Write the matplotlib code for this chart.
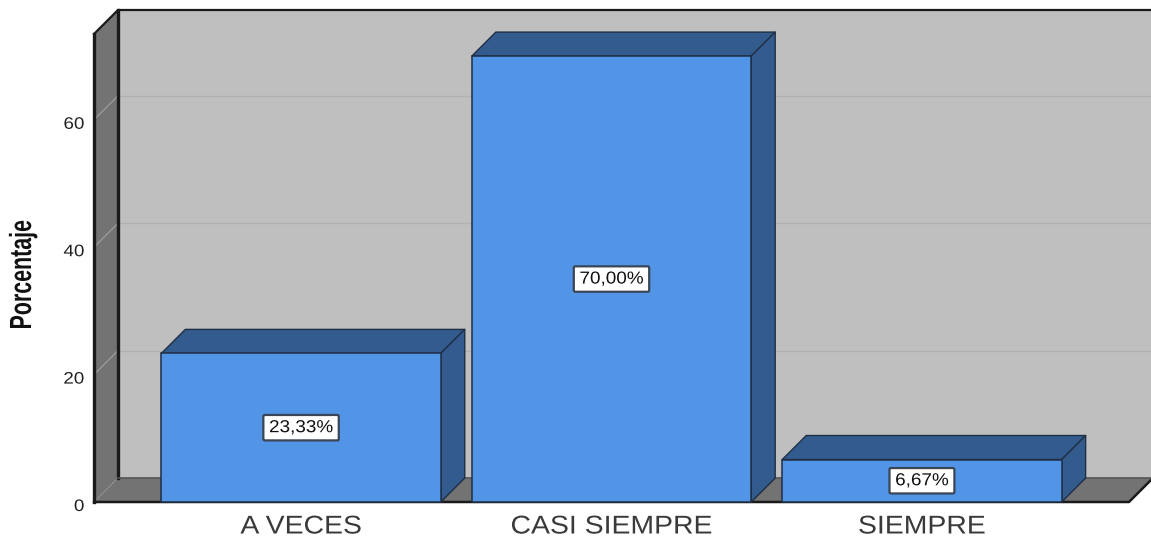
import matplotlib
matplotlib.use('agg')
import matplotlib.pyplot as plt
from matplotlib.patches import Polygon
from matplotlib.patheffects import AbstractPathEffect
from matplotlib.transforms import Affine2D, ScaledTranslation

categories = ['A VECES', 'CASI SIEMPRE', 'SIEMPRE']
porcentajes = [23.33, 70.00, 6.67]
etiquetas = ['23,33%', '70,00%', '6,67%']
y_ticks = [0, 20, 40, 60]

W, H = 1151, 538
BLUE = '#5294E6'
BLUE_DARK = '#345B8E'
EDGE = '#1F2F45'
WALL = '#BFBFBF'
SIDE = '#737373'
DARK = '#1A1A1A'
GRID = '#B0B0B0'


# el texto del original esta estirado, esto lo escala sin dejar de ser texto
class Estira(AbstractPathEffect):
    def __init__(self, sx=1.0, sy=1.0, ancla='centro'):
        super().__init__()
        self.sx, self.sy, self.ancla = sx, sy, ancla

    def draw_path(self, renderer, gc, tpath, affine, rgbFace=None):
        ext = tpath.get_extents(affine)
        cx = ext.x1 if self.ancla == 'derecha' else (ext.x0 + ext.x1) / 2
        cy = (ext.y0 + ext.y1) / 2
        t = affine + Affine2D().translate(-cx, -cy).scale(self.sx, self.sy).translate(cx, cy)
        renderer.draw_path(gc, tpath, t, rgbFace)


fig = plt.figure(figsize=(W / 100, H / 100), dpi=100)
ax = fig.add_axes([94 / W, (H - 502) / H, (1129 - 94) / W, 468 / H])
x0, x1, y1 = -0.667, 2.667, 73.47
ax.set_xlim(x0, x1)
ax.set_ylim(0, y1)
# profundidad del efecto 3D
dx = 24 / 310.5
dy = 24 / 6.37


def poly(pts, fc, ec=DARK, lw=1.0, z=1):
    ax.add_patch(Polygon(pts, closed=True, facecolor=fc, edgecolor=ec, linewidth=lw,
                         zorder=z, clip_on=False, joinstyle='round'))


# paredes y suelo
poly([(x0 + dx, dy), (x1 + dx, dy), (x1 + dx, y1 + dy), (x0 + dx, y1 + dy)], WALL, ec='none')
poly([(x0, 0), (x0 + dx, dy), (x0 + dx, y1 + dy), (x0, y1)], SIDE, ec='none')
poly([(x0, 0), (x1, 0), (x1 + dx, dy), (x0 + dx, dy)], SIDE, ec='none')

for t in y_ticks[1:]:
    ax.plot([x0 + dx, x1 + dx], [t + dy, t + dy], color=GRID, lw=1.0, zorder=2, clip_on=False)
    ax.plot([x0, x0 + dx], [t, t + dy], color='#999999', lw=1.0, zorder=2, clip_on=False)
ax.plot([x0, x0 + dx], [0, dy], color='#999999', lw=0.8, ls=':', zorder=2, clip_on=False)

# bordes oscuros de la caja
ax.plot([x0, x0], [0, y1], color=DARK, lw=2.4, zorder=3, clip_on=False)
ax.plot([x0, x0 + dx, x1 + dx], [y1, y1 + dy, y1 + dy], color=DARK, lw=1.6, zorder=3, clip_on=False)
ax.plot([x0 + dx, x0 + dx], [dy, y1 + dy], color=DARK, lw=2.4, zorder=3, clip_on=False)
ax.plot([x0 + dx, x1 + dx], [dy, dy], color='#555555', lw=1.2, zorder=3, clip_on=False)
ax.plot([x0, x1, x1 + dx], [0, 0, dy], color=DARK, lw=1.8, zorder=3, clip_on=False)

# barras
pos = list(range(len(categories)))
w = 0.9
for p, v, lab in zip(pos, porcentajes, etiquetas):
    l, r = p - w / 2, p + w / 2
    poly([(l, v), (r, v), (r + dx, v + dy), (l + dx, v + dy)], BLUE_DARK, ec=EDGE, z=4)
    poly([(r, 0), (r + dx, dy), (r + dx, v + dy), (r, v)], BLUE_DARK, ec=EDGE, z=4)
    ax.bar(p, v, width=w, color=BLUE, edgecolor=EDGE, linewidth=1.1, zorder=5, clip_on=False)
    tx = ax.text(p, v / 2, lab, ha='center', va='center', fontsize=12.5, color='#111111',
                 family='Liberation Sans', zorder=7,
                 bbox=dict(boxstyle='round,pad=0.3,rounding_size=0.08', facecolor='white',
                           edgecolor='#3A4655', linewidth=1.6))
    tx.set_path_effects([Estira(sx=1.09)])
    tx.get_bbox_patch().set_path_effects([Estira(sx=1.09)])

for s in ax.spines.values():
    s.set_visible(False)
ax.patch.set_visible(False)
ax.set_xticks(pos)
ax.set_xticklabels(categories, fontsize=18.5, color='#3A3A3A', family='Liberation Sans')
ax.set_yticks(y_ticks)
ax.set_yticklabels([str(t) for t in y_ticks], fontsize=12, color='#222222', family='Liberation Sans')
ax.tick_params(axis='both', length=0)
ax.tick_params(axis='x', pad=9)
ax.tick_params(axis='y', pad=7)
for lb in ax.get_xticklabels():
    lb.set_path_effects([Estira(sx=1.105)])
# los numeros del eje van un poco por debajo de su marca
baja = ScaledTranslation(0, -3 / 100, fig.dpi_scale_trans)
for lb in ax.get_yticklabels():
    lb.set_transform(lb.get_transform() + baja)
    lb.set_path_effects([Estira(sx=1.13, ancla='derecha')])

ax.set_ylabel('Porcentaje', fontsize=22, fontweight='bold', color='#111111',
              family='Liberation Sans', va='center', ha='center')
ax.yaxis.set_label_coords((23 - 94) / (1129 - 94), (502 - 275) / 468)
ax.yaxis.label.set_path_effects([Estira(sy=0.70)])

plt.savefig('out.png', dpi=100)
plt.close()
